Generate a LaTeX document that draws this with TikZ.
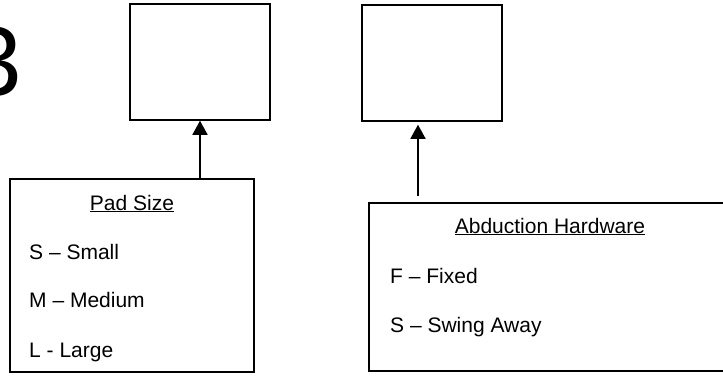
\documentclass[tikz,border=0pt]{standalone}
\usepackage{fontspec}
\setmainfont{Liberation Sans}
\usetikzlibrary{arrows.meta, positioning}
\tikzset{
  emptybox/.style={draw, line width=1.5pt, minimum width=140pt, minimum height=116pt, inner sep=0pt},
  legendbox/.style={draw, line width=1.5pt, inner sep=0pt},
  legendtext/.style={font=\fontsize{21}{25}\selectfont, inner sep=0pt},
  link/.style={-{Triangle[width=15pt,length=14pt]}, line width=1.5pt}
}

\begin{document}
\begin{tikzpicture}[x=1pt, y=-1pt]
\clip (0,0) rectangle (723,375);

% Large label, cut at the left edge
\node[font=\fontsize{98}{100}\selectfont, inner sep=0pt, anchor=base east] (num) at (22,95) {3};

% Empty boxes at the top
\node[emptybox] (padcode) at (200,62) {};
\node[emptybox] (hwcode) at (432,63) {};

% Left side - Pad Size
\node[legendbox, minimum width=244pt, minimum height=193pt] (padbox) at (132,275.5) {};
\node[legendtext, anchor=base] (padtitle) at (132,210) {\underline{Pad Size}};
\node[legendtext, anchor=base west] (pads) at (29,259) {S -- Small};
\node[legendtext, anchor=base west] (padm) at (29,307) {M -- Medium};
\node[legendtext, anchor=base west] (padl) at (29,357) {L - Large};

% Right side - Abduction Hardware
\node[legendbox, minimum width=372pt, minimum height=168pt] (hwbox) at (555,287) {};
\node[legendtext, anchor=base] (hwtitle) at (550,233) {\underline{Abduction Hardware}};
\node[legendtext, anchor=base west] (hwf) at (390,283) {F -- Fixed};
\node[legendtext, anchor=base west] (hws) at (390,332) {S -- Swing Away};

% Arrows
\draw[link] (padbox.north -| padcode.south) -- (padcode.south);
\coordinate (hwtail) at (418,196);
\draw[link, shorten >=3pt] (hwtail) -- (hwtail |- hwcode.south);
\end{tikzpicture}
\end{document}
